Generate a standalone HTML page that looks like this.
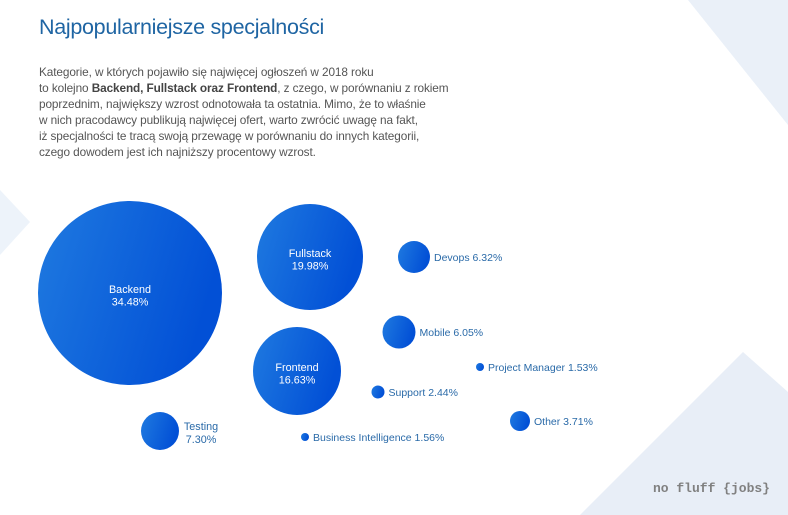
<!DOCTYPE html>
<html><head><meta charset="utf-8"><style>
html,body{margin:0;padding:0;background:#fff;}
#wrap{position:relative;width:788px;height:515px;overflow:hidden;font-family:"Liberation Sans",sans-serif;}
h1{position:absolute;left:39px;top:15px;margin:0;font-weight:normal;font-size:21.5px;color:#1f65a3;letter-spacing:-0.3px;}
p{position:absolute;left:39px;top:64px;margin:0;font-size:11.8px;line-height:16px;color:#555;letter-spacing:-0.1px;}
p b{color:#444;}
svg{position:absolute;left:0;top:0;}
</style></head><body>
<div id="wrap">
<svg width="788" height="515">
<defs><linearGradient id="g" x1="0" y1="0" x2="1" y2="0.3"><stop offset="0" stop-color="#1f7ae0"/><stop offset="1" stop-color="#0250d6"/></linearGradient></defs>
<polygon points="688,0 788,0 788,125" fill="#eaf0f8"/>
<polygon points="743,352 788,392 788,515 580,515" fill="#e8eef7"/>
<polygon points="0,190 30,222 0,255" fill="#edf3fa"/>
<g id="bubbles" font-family="'Liberation Sans',sans-serif"></g>
<text x="770" y="492" text-anchor="end" font-family="'Liberation Mono',monospace" font-size="13" font-weight="bold" fill="#808080">no fluff {jobs}</text>
</svg>
<h1>Najpopularniejsze specjalności</h1>
<p>Kategorie, w których pojawiło się najwięcej ogłoszeń w 2018 roku<br>to kolejno <b>Backend, Fullstack oraz Frontend</b>, z czego, w porównaniu z rokiem<br>poprzednim, największy wzrost odnotowała ta ostatnia. Mimo, że to właśnie<br>w nich pracodawcy publikują najwięcej ofert, warto zwrócić uwagę na fakt,<br>iż specjalności te tracą swoją przewagę w porównaniu do innych kategorii,<br>czego dowodem jest ich najniższy procentowy wzrost.</p>
</div>
<script>
const categories=["Backend","Fullstack","Frontend","Devops","Mobile","Project Manager","Support","Testing","Business Intelligence","Other"];
const percents=[34.48,19.98,16.63,6.32,6.05,1.53,2.44,7.30,1.56,3.71];
const sizes=[92,53,44,16,16.5,4,6.5,19,4,10];
const layoutX=[130,310,297,414,399,480,378,160,305,520];
const layoutY=[293,257,371,257,332,367,392,431,437,421];
const inside=[true,true,true,false,false,false,false,false,false,false];
const g=document.getElementById('bubbles');
const NS="http://www.w3.org/2000/svg";
function rScale(v){return v;}
categories.forEach((c,i)=>{
  const cx=layoutX[i],cy=layoutY[i],r=rScale(sizes[i]);
  const circ=document.createElementNS(NS,'circle');
  circ.setAttribute('cx',cx);circ.setAttribute('cy',cy);circ.setAttribute('r',r);circ.setAttribute('fill','url(#g)');
  
  
  g.appendChild(circ);
  const pct=percents[i].toFixed(2)+'%';
  if(inside[i]){
    [c,pct].forEach((s,k)=>{
      const t=document.createElementNS(NS,'text');
      t.setAttribute('x',cx);t.setAttribute('y',cy+k*12.5);t.setAttribute('text-anchor','middle');
      t.setAttribute('font-size','10.8');t.setAttribute('fill','#fff');t.textContent=s;
      
      
      g.appendChild(t);
    });
  } else if(c==="Testing"){
    [c,pct].forEach((s,k)=>{
      const t=document.createElementNS(NS,'text');
      t.setAttribute('x',cx+41);t.setAttribute('y',cy-1+k*13);t.setAttribute('text-anchor','middle');
      t.setAttribute('font-size','10.8');t.setAttribute('fill','#2a6aa8');t.textContent=s;
      
      
      g.appendChild(t);
    });
  } else {
    const t=document.createElementNS(NS,'text');
    t.setAttribute('x',cx+r+4);t.setAttribute('y',cy+4);
    t.setAttribute('font-size','10.5');t.setAttribute('fill','#2a6aa8');t.textContent=c+' '+pct;
    
    
    g.appendChild(t);
  }
});
</script>
</body></html>
